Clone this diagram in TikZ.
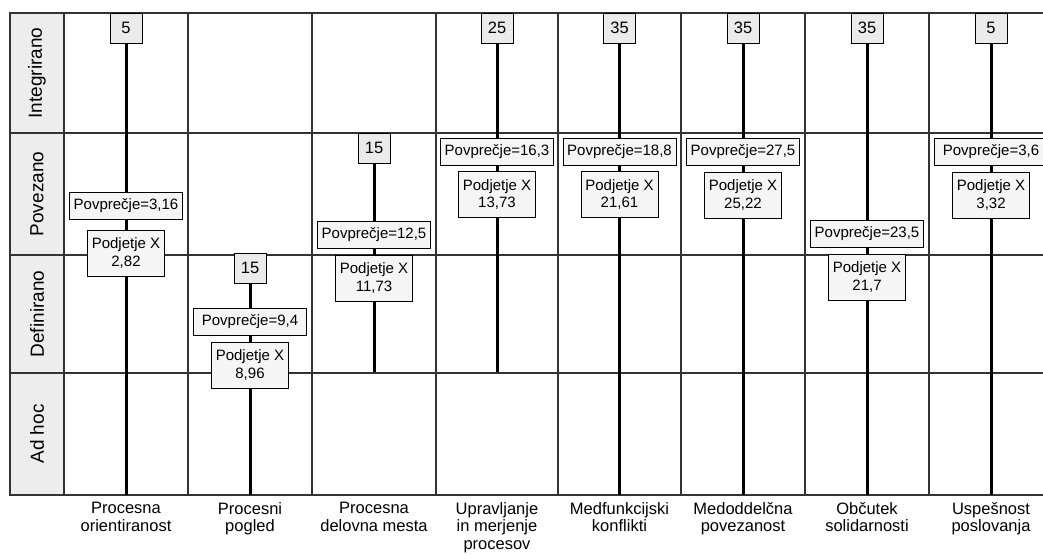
\documentclass[tikz,border=0pt]{standalone}
\usepackage{fontspec}
\setmainfont{Liberation Sans}
\usepackage{tikz}
\usetikzlibrary{calc}

\tikzset{
  gridline/.style={line width=1.3pt, black!80},
  bar/.style={line width=3pt},
  valbox/.style={draw, line width=1pt, fill=black!8, minimum width=32, minimum height=30, inner sep=1pt, font=\fontsize{16.5}{18}\selectfont},
  meanbox/.style={draw, line width=1pt, fill=black!4, minimum width=113, minimum height=27, inner sep=1pt, font=\fontsize{15}{16}\selectfont},
  firmbox/.style={draw, line width=1pt, fill=black!4, minimum width=77, minimum height=46, inner sep=1pt, align=center, font=\fontsize{15}{17.5}\selectfont},
  rowlab/.style={rotate=90, font=\fontsize{19}{21}\selectfont},
  collab/.style={anchor=north, align=center, inner sep=1pt, font=\fontsize{16.5}{17.5}\selectfont},
}

\begin{document}
\begin{tikzpicture}[x=1pt, y=-1pt]
		%%%%% START %%%%%
		\path[use as bounding box] (0,0) rectangle (1043,554);
		\clip (0,0) rectangle (1043,554);
		
		% grid
		\fill[black!7] (10,13) rectangle (64,495);
		\draw[gridline] (10,13) rectangle (1053,495);
		\foreach \gx in {64,188,312,436,558,681,805,929}
			\draw[gridline] (\gx,13) -- (\gx,495);
		\foreach \gy in {133,255,373}
			\draw[gridline] (10,\gy) -- (1053,\gy);
		
		% row labels
		\foreach \n/\y/\t in {int/73/Integrirano, pov/194/Povezano, def/314/Definirano, adh/434/Ad hoc}
			\node[rowlab] (\n) at (37,\y) {\t};
		
		% columns: max, average, firm, end of bar
		\foreach \i/\x/\val/\vy/\avg/\ay/\firm/\fy/\ey/\lab in {
			1/126/5/28/{3,16}/206/{2,82}/253/495/{Procesna\\orientiranost},
			2/250/15/268/{9,4}/321.5/{8,96}/365/495/{Procesni\\pogled},
			3/374/15/148/{12,5}/235/{11,73}/278/372/{Procesna\\delovna mesta},
			4/497/25/28/{16,3}/152/{13,73}/194.5/372/{Upravljanje\\in merjenje\\procesov},
			5/619.5/35/28/{18,8}/152/{21,61}/194.5/495/{Medfunkcijski\\konflikti},
			6/743/35/28/{27,5}/152/{25,22}/195/495/{Medoddelčna\\povezanost},
			7/867/35/28/{23,5}/234/{21,7}/277/495/{Občutek\\solidarnosti},
			8/991/5/28/{3,6}/152/{3,32}/195/495/{Uspešnost\\poslovanja}}
		{
			\node[valbox] (max\i) at (\x,\vy) {\val};
			\node[meanbox] (avg\i) at (\x,\ay) {Povprečje=\avg};
			\node[firmbox] (firm\i) at (\x,\fy) {Podjetje X\\\firm};
			\coordinate (end\i) at (\x,\ey);
			\draw[bar] (max\i) -- (avg\i) (avg\i) -- (firm\i) (firm\i) -- (end\i);
			\node[collab] (lab\i) at (\x,501) {\lab};
		}
		%%%%% END %%%%%
\end{tikzpicture}
\end{document}
